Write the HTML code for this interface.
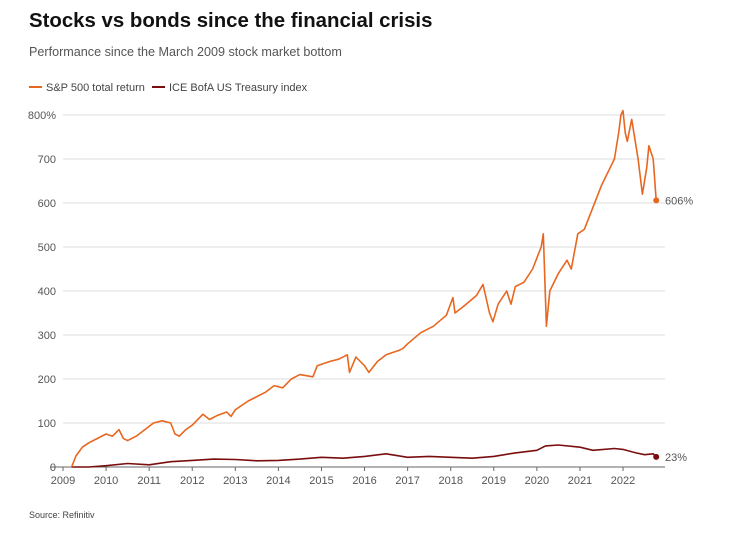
<!DOCTYPE html>
<html><head><meta charset="utf-8"><style>
body{margin:0;background:#fff;font-family:"Liberation Sans",sans-serif;}
svg text{font-family:"Liberation Sans",sans-serif;}
</style></head><body>
<svg width="729" height="531" viewBox="0 0 729 531">
<text x="29" y="27" font-size="20.4" font-weight="bold" fill="#111">Stocks vs bonds since the financial crisis</text>
<text x="29" y="56" font-size="12.6" fill="#555">Performance since the March 2009 stock market bottom</text>
<g>
<line x1="29" y1="87" x2="42" y2="87" stroke="#e8671f" stroke-width="2"/>
<text x="46" y="91" font-size="11" fill="#444">S&amp;P 500 total return</text>
<line x1="152" y1="87" x2="165" y2="87" stroke="#7a0e0e" stroke-width="2"/>
<text x="169" y="91" font-size="11" fill="#444">ICE BofA US Treasury index</text>
</g>
<g id="grid"></g><g id="lines"></g>
<text x="29" y="518" font-size="9" fill="#444">Source: Refinitiv</text>
</svg>
<script>
const yTicks=[0,100,200,300,400,500,600,700,800];
const xTicks=[2009,2010,2011,2012,2013,2014,2015,2016,2017,2018,2019,2020,2021,2022];
const spYears=[2009.2,2009.3,2009.45,2009.6,2009.8,2010.0,2010.15,2010.3,2010.4,2010.5,2010.7,2010.9,2011.1,2011.3,2011.5,2011.6,2011.7,2011.85,2012.0,2012.25,2012.4,2012.6,2012.8,2012.9,2013.0,2013.3,2013.5,2013.7,2013.9,2014.1,2014.3,2014.5,2014.8,2014.9,2015.2,2015.4,2015.6,2015.65,2015.8,2016.0,2016.1,2016.3,2016.5,2016.8,2016.9,2017.0,2017.3,2017.6,2017.9,2018.05,2018.1,2018.3,2018.6,2018.75,2018.9,2018.98,2019.1,2019.3,2019.4,2019.5,2019.7,2019.9,2020.1,2020.15,2020.22,2020.3,2020.5,2020.7,2020.8,2020.95,2021.1,2021.3,2021.5,2021.7,2021.8,2021.9,2021.95,2022.0,2022.05,2022.1,2022.2,2022.35,2022.45,2022.55,2022.6,2022.7,2022.77];
const spValues=[0,25,45,55,65,75,70,85,65,60,70,85,100,105,100,75,70,85,95,120,108,118,125,115,130,150,160,170,185,180,200,210,205,230,240,245,255,215,250,230,215,240,255,265,270,280,305,320,345,385,350,365,390,415,350,330,370,400,370,410,420,450,500,530,320,400,440,470,450,530,540,590,640,680,700,760,800,810,760,740,790,700,620,680,730,700,606];
const bdYears=[2009.2,2009.6,2010.0,2010.5,2011.0,2011.5,2012.0,2012.5,2013.0,2013.5,2014.0,2014.5,2015.0,2015.5,2016.0,2016.5,2017.0,2017.5,2018.0,2018.5,2019.0,2019.5,2020.0,2020.2,2020.5,2021.0,2021.3,2021.8,2022.0,2022.3,2022.5,2022.7,2022.77];
const bdValues=[0,0,3,8,5,12,15,18,17,14,15,18,22,20,24,30,22,24,22,20,24,32,38,48,50,45,38,42,40,32,28,30,23];
const NS="http://www.w3.org/2000/svg";
const X=v=>63+(v-2009)*43.08, Y=v=>467-v*0.44;
const grid=document.getElementById('grid'), lines=document.getElementById('lines');
function mk(t,a,p){const e=document.createElementNS(NS,t);for(const k in a)e.setAttribute(k,a[k]);p.appendChild(e);return e;}
yTicks.forEach(t=>{
 const l=mk('line',{x1:t==0?50:63,x2:665,y1:Y(t),y2:Y(t),stroke:t==0?'#666':'#ddd','stroke-width':1},grid);
 
 
 const tx=mk('text',{x:56,y:Y(t)+4,'font-size':11,fill:'#555','text-anchor':'end'},grid);
 tx.textContent=t==800?'800%':t;
 
 
});
xTicks.forEach(t=>{
 mk('line',{x1:X(t),x2:X(t),y1:467,y2:471,stroke:'#666'},grid);
 const tx=mk('text',{x:X(t),y:484,'font-size':11,fill:'#555','text-anchor':'middle'},grid);
 tx.textContent=t;
 
 
});
function series(xs,ys,col,name){
 const p=mk('path',{d:xs.map((x,i)=>(i?'L':'M')+X(x).toFixed(1)+','+Y(ys[i]).toFixed(1)).join(''),fill:'none',stroke:col,'stroke-width':1.6,'stroke-linejoin':'round'},lines);
 
 
 const n=xs.length-1;
 const c=mk('circle',{cx:X(xs[n]),cy:Y(ys[n]),r:3,fill:col},lines);
 
 
 const t=mk('text',{x:665,y:Y(ys[n])+4,'font-size':11,fill:'#555'},lines);
 t.textContent=ys[n]+'%';
 
 
}
series(bdYears,bdValues,'#7a0e0e','treasury');
series(spYears,spValues,'#e8671f','sp500');
</script>
</body></html>
